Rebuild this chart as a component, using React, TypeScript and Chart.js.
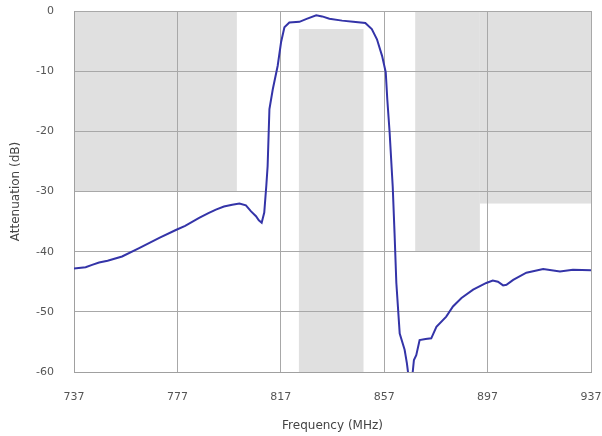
import React, { useEffect, useRef } from "react";
import { Chart, registerables } from "chart.js";

Chart.register(...registerables);

// Measured response
const frequencyMHz = [
  737, 741.5, 744, 746.7, 750, 755.6, 762.2, 770, 776.4, 780, 785.4, 789, 791.9, 795, 798.2,
  801, 803.5, 805.5, 807.4, 808.5, 809.6, 810.6, 811.4, 811.9, 812.6, 813.9, 815.8, 817.1,
  818.4, 820.3, 824.2, 827, 830.7, 833, 835.8, 840.7, 845, 849.7, 852.2, 854.2, 856.2, 857.6,
  858.2, 859.1, 860.3, 861, 861.7, 863, 864.9, 865.8, 866.5, 867.8, 868.5, 869.4, 870.7, 873,
  875.2, 877.2, 881, 883.6, 886.9, 891.4, 896.5, 899, 901, 903, 904.3, 906.9, 912, 918.5, 925,
  930, 937,
];
const attenuationDb = [
  -42.8, -42.6, -42.2, -41.8, -41.5, -40.8, -39.4, -37.7, -36.4, -35.7, -34.4, -33.6, -33.0,
  -32.5, -32.2, -32.0, -32.3, -33.3, -34.1, -34.8, -35.2, -33.5, -29, -25.8, -16.3, -13, -9.1,
  -5.2, -2.7, -1.9, -1.8, -1.3, -0.7, -0.9, -1.3, -1.6, -1.8, -2.0, -3.0, -4.7, -7.5, -10.2,
  -14.7, -20.2, -29.2, -36.9, -45.2, -53.6, -56.3, -58.6, -61, -61, -58, -57.2, -54.7, -54.5,
  -54.4, -52.5, -50.8, -49.1, -47.7, -46.3, -45.2, -44.8, -45.0, -45.6, -45.5, -44.7, -43.5,
  -42.9, -43.3, -43.0, -43.1,
];

// Specification mask blocks (grey regions)
const maskStartMHz = [737, 824, 869, 894];
const maskEndMHz = [800, 849, 894, 937];
const maskTopDb = [0, -3, 0, 0];
const maskBottomDb = [-30, -60, -40, -32];

// Axis ticks
const xTicks = [737, 777, 817, 857, 897, 937];
const yTicks = [-60, -50, -40, -30, -20, -10, 0];

const maskPlugin = {
  id: "maskPlugin",
  beforeDraw(chart: any) {
    const { ctx, scales } = chart;
    const xs = scales.x;
    const ys = scales.y;
    ctx.save();
    ctx.fillStyle = "#e0e0e0";
    for (let i = 0; i < maskStartMHz.length; i++) {
      const x1 = xs.getPixelForValue(maskStartMHz[i]);
      const x2 = xs.getPixelForValue(maskEndMHz[i]);
      const y1 = ys.getPixelForValue(maskTopDb[i]);
      const y2 = ys.getPixelForValue(maskBottomDb[i]);
      ctx.fillRect(x1, y1, x2 - x1, y2 - y1);
    }
    ctx.restore();
  },
};

export default function App() {
  const ref = useRef<HTMLCanvasElement | null>(null);
  useEffect(() => {
    document.body.style.margin = "0";
    if (!ref.current) return;
    const chart = new Chart(ref.current, {
      type: "line",
      data: {
        datasets: [
          {
            data: frequencyMHz.map((f, i) => ({ x: f, y: attenuationDb[i] })),
            borderColor: "#3434a8",
            borderWidth: 2,
            pointRadius: 0,
            tension: 0,
            fill: false,
          },
        ],
      },
      options: {
        animation: false,
        responsive: false,
        maintainAspectRatio: false,
        layout: { padding: { left: 0, top: 11, right: 11, bottom: 0 } },
        plugins: { legend: { display: false }, tooltip: { enabled: false } },
        scales: {
          x: {
            type: "linear",
            min: 737,
            max: 937,
            afterBuildTicks: (s: any) => {
              s.ticks = xTicks.map((v) => ({ value: v }));
            },
            afterFit: (s: any) => {
              s.height = 64;
            },
            grid: { color: "#a8a8a8", lineWidth: 1, drawTicks: true, tickLength: 19, tickColor: "rgba(0,0,0,0)" },
            border: { color: "#a0a0a0" },
            ticks: {
              padding: 0,
              color: "#555",
              font: { family: "DejaVu Sans", size: 11 },
              maxRotation: 0,
              callback: (v: any) => String(v),
            },
            title: {
              display: true,
              text: "Frequency (MHz)",
              color: "#444",
              font: { family: "DejaVu Sans", size: 12 },
              padding: { top: 0, bottom: 3 },
            },
          },
          y: {
            type: "linear",
            min: -60,
            max: 0,
            afterBuildTicks: (s: any) => {
              s.ticks = yTicks.map((v) => ({ value: v }));
            },
            afterFit: (s: any) => {
              s.width = 74;
            },
            grid: { color: "#a8a8a8", lineWidth: 1, drawTicks: true, tickLength: 20, tickColor: "rgba(0,0,0,0)" },
            border: { color: "#a0a0a0" },
            ticks: {
              padding: 0,
              color: "#555",
              font: { family: "DejaVu Sans", size: 11 },
              callback: (v: any) => String(v),
            },
            title: {
              display: true,
              text: "Attenuation (dB)",
              color: "#444",
              font: { family: "DejaVu Sans", size: 12 },
              padding: { top: 9, bottom: 0 },
            },
          },
        },
      },
      plugins: [maskPlugin],
    });
    return () => chart.destroy();
  }, []);
  return (
    <div style={{ width: 602, height: 436 }}>
      <canvas ref={ref} width={602} height={436} style={{ width: 602, height: 436 }} />
    </div>
  );
}
